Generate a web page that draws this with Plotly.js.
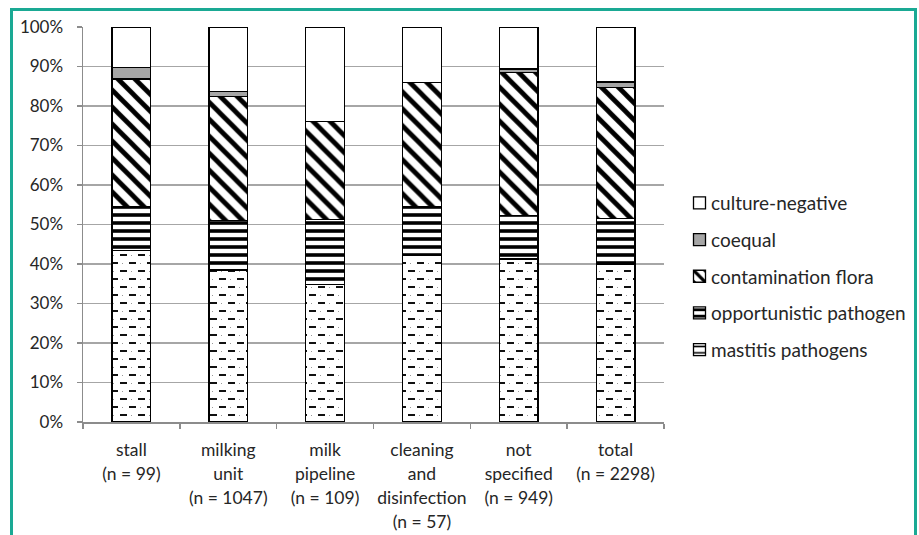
<!DOCTYPE html>
<html>
<head>
<meta charset="utf-8">
<script src="https://cdn.plot.ly/plotly-3.0.1.min.js"></script>
<style>
  html, body { margin: 0; padding: 0; background: #ffffff; }
  #wrap { position: relative; width: 919px; height: 535px; overflow: hidden; }
  #chart { position: absolute; left: 0; top: 0; width: 919px; height: 535px; }
  #frame {
    position: absolute; left: 10px; top: 8px; width: 901px; height: 600px;
    border: 3px solid #1aa994; pointer-events: none;
  }
</style>
</head>
<body>
<div id="wrap">
  <div id="chart"></div>
  <div id="frame"></div>
</div>
<script>
// Sampling sites and share (%) of each culture result per site
const categories = [
  'stall<br>(n = 99)',
  'milking<br>unit<br>(n = 1047)',
  'milk<br>pipeline<br>(n = 109)',
  'cleaning<br>and<br>disinfection<br>(n = 57)',
  'not<br>specified<br>(n = 949)',
  'total<br>(n = 2298)'
];
const mastitisPathogens      = [43.4, 38.5, 34.8, 42.1, 41.3, 40.0];
const opportunisticPathogen  = [11.1, 12.5, 16.4, 12.3, 10.9, 11.6];
const contaminationFlora     = [32.3, 31.4, 24.8, 31.6, 36.3, 33.0];
const coequal                = [3.0, 1.2, 0.0, 0.0, 0.9, 1.5];
const cultureNegative        = [10.2, 16.4, 24.0, 14.0, 10.6, 13.9];

const yTickVals = [0, 10, 20, 30, 40, 50, 60, 70, 80, 90, 100];

const FONT = 'Lato, "Open Sans", sans-serif';
const TEXT = '#262626';
const outline = { color: '#000000', width: 1.3 };
const LABEL_LINE_EM = 1.39;

// legend runs top-down from culture-negative to mastitis pathogens
function barTrace(name, values, color, rank, pattern) {
  const t = {
    type: 'bar',
    name: name,
    x: categories,
    y: values,
    legendgroup: name,
    legendrank: rank,
    marker: { color: color, line: outline },
    hoverinfo: 'x+y+name'
  };
  if (pattern) t.marker.pattern = pattern;
  return t;
}

const data = [
  barTrace('mastitis pathogens', mastitisPathogens, '#ffffff', 5,
    { shape: '-', fgcolor: '#000000', bgcolor: '#ffffff', size: 8, solidity: 0.25 }),
  barTrace('opportunistic pathogen', opportunisticPathogen, '#ffffff', 4,
    { shape: '-', fgcolor: '#000000', bgcolor: '#ffffff', size: 8, solidity: 0.45 }),
  barTrace('contamination flora', contaminationFlora, '#ffffff', 3,
    { shape: '\\', fgcolor: '#000000', bgcolor: '#ffffff', size: 12, solidity: 0.4 }),
  barTrace('coequal', coequal, '#a6a6a6', 2),
  barTrace('culture-negative', cultureNegative, '#ffffff', 1)
];

const layout = {
  width: 919,
  height: 535,
  margin: { l: 83, r: 255, t: 27, b: 113 },
  paper_bgcolor: '#ffffff',
  plot_bgcolor: '#ffffff',
  barmode: 'stack',
  bargap: 0.6,
  font: { family: FONT, size: 17, color: TEXT },
  xaxis: {
    type: 'category',
    showgrid: false,
    showline: true,
    linecolor: '#8c8c8c',
    linewidth: 1.5,
    ticks: 'outside',
    tickson: 'boundaries',
    ticklen: 5,
    tickcolor: '#8c8c8c',
    tickwidth: 1.5,
    tickangle: 0,
    tickfont: { family: FONT, size: 17.5, color: TEXT },
    ticklabelstandoff: 11,
    automargin: false,
    zeroline: false
  },
  yaxis: {
    range: [0, 100],
    tickvals: yTickVals,
    ticktext: yTickVals.map(v => v + '%'),
    showgrid: true,
    gridcolor: '#a6a6a6',
    gridwidth: 1.3,
    showline: true,
    linecolor: '#8c8c8c',
    linewidth: 1.5,
    ticks: 'outside',
    ticklen: 5,
    tickcolor: '#8c8c8c',
    tickwidth: 1.3,
    tickfont: { family: FONT, size: 17, color: TEXT },
    ticklabelstandoff: 10,
    automargin: false,
    zeroline: false
  },
  legend: {
    x: 1.0,
    xanchor: 'left',
    y: 0.605,
    yanchor: 'top',
    traceorder: 'grouped',
    tracegroupgap: 9,
    font: { family: FONT, size: 19, color: TEXT },
    bgcolor: 'rgba(0,0,0,0)'
  },
  showlegend: true
};

const SVGNS = 'http://www.w3.org/2000/svg';

// Replace the plain stripe fill of the first trace with staggered short dashes
function dashFill(gd) {
  const traces = gd.querySelectorAll('.barlayer .trace');
  if (!traces.length) return;
  const ids = new Set();
  traces[0].querySelectorAll('path').forEach(p => {
    const m = (p.style.fill || '').match(/#([^"')]+)/);
    if (m) ids.add(m[1]);
  });
  ids.forEach(id => {
    const pat = document.getElementById(id);
    if (!pat) return;
    pat.setAttribute('patternUnits', 'userSpaceOnUse');
    pat.setAttribute('width', 18);
    pat.setAttribute('height', 16);
    while (pat.firstChild) pat.removeChild(pat.firstChild);
    const add = (tag, attrs) => {
      const el = document.createElementNS(SVGNS, tag);
      Object.keys(attrs).forEach(k => el.setAttribute(k, attrs[k]));
      pat.appendChild(el);
    };
    add('rect', { x: 0, y: 0, width: 18, height: 16, fill: '#ffffff' });
    add('rect', { x: 1, y: 3, width: 7, height: 2, fill: '#111111' });
    add('rect', { x: 10, y: 11, width: 7, height: 2, fill: '#111111' });
    add('rect', { x: 12, y: 4, width: 1, height: 1, fill: '#9a9a9a' });
    add('rect', { x: 3, y: 12, width: 1, height: 1, fill: '#9a9a9a' });
  });
}

// Open up the line spacing of the multi-line category labels
function spaceLabels(gd) {
  gd.querySelectorAll('.xtick text').forEach(t => {
    t.querySelectorAll('tspan.line').forEach((ts, i) => {
      ts.setAttribute('dy', (i * LABEL_LINE_EM) + 'em');
    });
  });
}

// Nudge the legend into the right margin and pull swatches close to their labels
function placeLegend(gd) {
  const leg = gd.querySelector('.legend');
  if (leg) {
    const prev = leg.getAttribute('transform') || '';
    leg.setAttribute('transform', prev + ' translate(7,1)');
  }
  gd.querySelectorAll('.legend .traces .legendpoints').forEach(g => {
    const prev = g.getAttribute('transform') || '';
    g.setAttribute('transform', prev + ' translate(8.5,0)');
  });
}

Plotly.newPlot('chart', data, layout, { displayModeBar: false, staticPlot: true }).then(gd => {
  dashFill(gd);
  spaceLabels(gd);
  placeLegend(gd);
});
</script>
</body>
</html>
